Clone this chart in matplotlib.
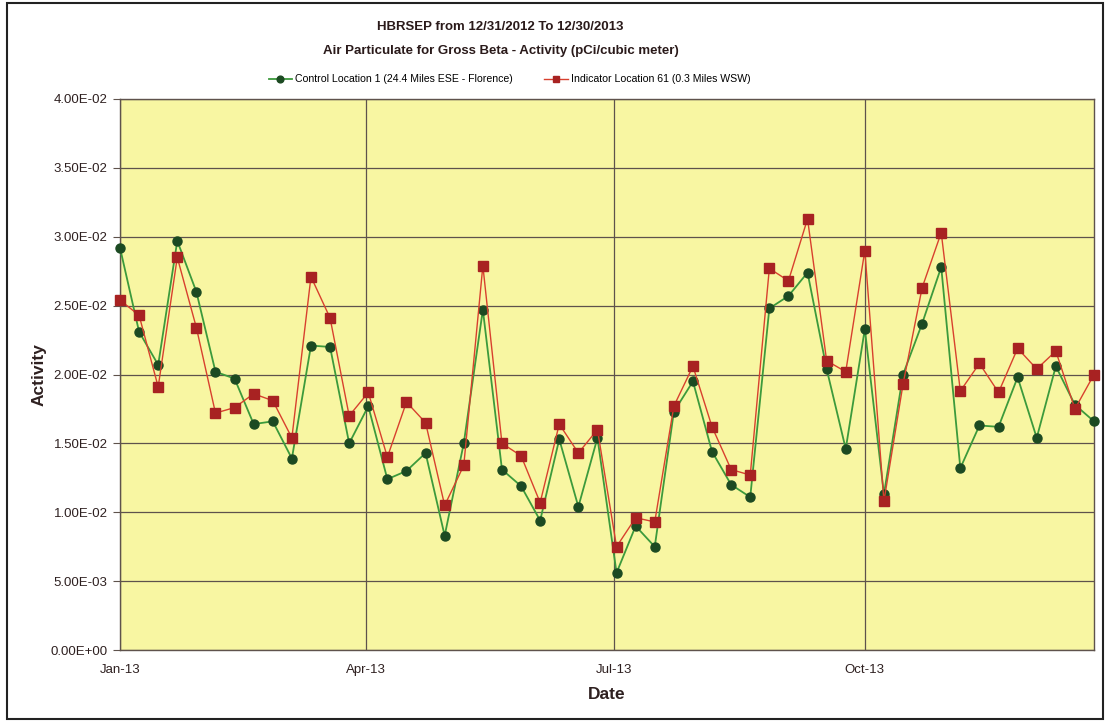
import numpy as np
import pandas as pd
import matplotlib
matplotlib.use("Agg")
import matplotlib.pyplot as plt
import matplotlib.dates as mdates
from matplotlib.patches import Rectangle

plt.rcParams['font.family'] = ['Liberation Sans', 'DejaVu Sans']

# weekly sample dates (52 weeks)
dates = pd.date_range('2013-01-01', periods=52, freq='7D')

control = [0.0292, 0.0231, 0.0207, 0.0297, 0.0260, 0.0202, 0.0197, 0.0164, 0.0166, 0.0139,
           0.0221, 0.0220, 0.0150, 0.0177, 0.0124, 0.0130, 0.0143, 0.0083, 0.0150, 0.0247,
           0.0131, 0.0119, 0.0094, 0.0153, 0.0104, 0.0154, 0.0056, 0.0090, 0.0075, 0.0173,
           0.0195, 0.0144, 0.0120, 0.0111, 0.0248, 0.0257, 0.0274, 0.0204, 0.0146, 0.0233,
           0.0113, 0.0200, 0.0237, 0.0278, 0.0132, 0.0163, 0.0162, 0.0198, 0.0154, 0.0206,
           0.0178, 0.0166]

indicator = [0.0254, 0.0243, 0.0191, 0.0285, 0.0234, 0.0172, 0.0176, 0.0186, 0.0181, 0.0154,
             0.0271, 0.0241, 0.0170, 0.0187, 0.0140, 0.0180, 0.0165, 0.0105, 0.0134, 0.0279,
             0.0150, 0.0141, 0.0107, 0.0164, 0.0143, 0.0160, 0.0075, 0.0096, 0.0093, 0.0177,
             0.0206, 0.0162, 0.0131, 0.0127, 0.0277, 0.0268, 0.0313, 0.0210, 0.0202, 0.0290,
             0.0108, 0.0193, 0.0263, 0.0303, 0.0188, 0.0208, 0.0187, 0.0219, 0.0204, 0.0217,
             0.0175, 0.0200]

xticks = pd.to_datetime(['2013-01-01', '2013-04-01', '2013-07-01', '2013-10-01'])
yticks = np.arange(0, 0.0401, 0.005)

fig = plt.figure(figsize=(11.10, 7.22), dpi=100)
# outer chart border
fig.patches.append(Rectangle((0.006, 0.004), 0.988, 0.992, transform=fig.transFigure,
                             fill=False, edgecolor='#222222', linewidth=1.5))

ax = fig.add_axes([0.1081, 0.0997, 0.8775, 0.7632])
ax.set_facecolor('#f8f6a2')

ax.plot(dates, control, color='#3c9a3c', linewidth=1.3, marker='o', markersize=6.5,
        markerfacecolor='#1c4a22', markeredgecolor='#1c4a22',
        label='Control Location 1 (24.4 Miles ESE - Florence)', zorder=3, clip_on=False)
ax.plot(dates, indicator, color='#d8402e', linewidth=1.0, marker='s', markersize=6.5,
        markerfacecolor='#a82222', markeredgecolor='#a82222',
        label='Indicator Location 61 (0.3 Miles WSW)', zorder=3, clip_on=False)

ax.set_xlim(dates[0], dates[-1])
ax.set_ylim(0, 0.04)
ax.set_xticks(xticks)
ax.xaxis.set_major_formatter(mdates.DateFormatter('%b-%y'))
ax.set_yticks(yticks)
ax.set_yticklabels([f'{v:.2E}' for v in yticks])
ax.grid(True, color='#5e524c', linewidth=0.9)
ax.set_axisbelow(True)

ax.tick_params(axis='x', length=0, pad=10, labelsize=9.5, colors='#2e2020')
ax.tick_params(axis='y', length=5, width=0.8, color='#5e524c', pad=4, labelsize=9.5,
               colors='#2e2020')
for lbl in ax.get_xticklabels() + ax.get_yticklabels():
    lbl.set_color('#2e2020')
for s in ax.spines.values():
    s.set_color('#5e524c')
    s.set_linewidth(1.0)

ax.set_xlabel('Date', fontsize=12.5, fontweight='bold', color='#2e2020', labelpad=8)
ax.set_ylabel('Activity', fontsize=12.5, fontweight='bold', color='#2e2020', labelpad=3)

fig.text(0.451, 0.962, 'HBRSEP from 12/31/2012 To 12/30/2013', ha='center', va='center',
         fontsize=9.5, fontweight='bold', color='#2a1a1a')
fig.text(0.451, 0.929, 'Air Particulate for Gross Beta - Activity (pCi/cubic meter)',
         ha='center', va='center', fontsize=9.5, fontweight='bold', color='#2a1a1a')

fig.legend(loc='center', bbox_to_anchor=(0.459, 0.890), ncol=2, frameon=False,
           fontsize=7.6, handlelength=2.2, handletextpad=0.3, columnspacing=3.0,
           markerscale=0.75)

fig.savefig('out.png', dpi=100)
